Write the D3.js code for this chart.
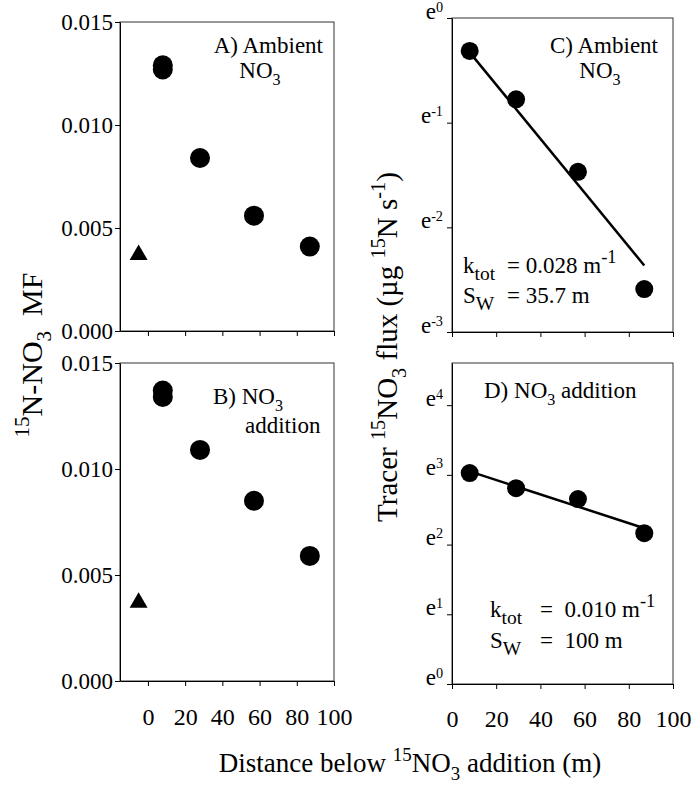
<!DOCTYPE html>
<html>
<head>
<meta charset="utf-8">
<script src="https://cdn.jsdelivr.net/npm/d3@7"></script>
<style>
  body { margin: 0; background: #fff; }
  svg { display: block; }
  svg text { font-family: 'Liberation Serif', 'DejaVu Serif', 'Times New Roman', Times, serif; }
</style>
</head>
<body>
<svg id="chart" width="692" height="790" font-family="Liberation Serif, DejaVu Serif, serif"></svg>
<script>
// tick values
const distTicks = [0, 20, 40, 60, 80, 100];
const mfTicks = [0, 0.005, 0.010, 0.015];
const expTicksC = [0, -1, -2, -3];
const expTicksD = [0, 1, 2, 3, 4];

// 15N-NO3 mole fraction (panels A, B)
const distMF = [8, 8, 28, 57, 87];
const mfAmbient = [0.0129, 0.0127, 0.0084, 0.0056, 0.0041];
const mfAddition = [0.0137, 0.0134, 0.0109, 0.0085, 0.0059];
const distBackground = [-5];
const mfBackgroundA = [0.0037];
const mfBackgroundB = [0.0037];

// tracer flux (panels C, D), ug 15N/s
const distFlux = [8, 29, 57, 87];
const fluxAmbient = [0.73, 0.46, 0.23, 0.075];
const fluxAddition = [20.6, 16.6, 14.2, 8.7];

// fitted lines (end points)
const fitDistC = [8, 87];
const fitFluxC = [0.72, 0.094];
const fitDistD = [9, 86];
const fitFluxD = [20.9, 9.45];

const svg = d3.select("#chart");

// text with super / subscripts: parts = [[text, "sup"|"sub"|undefined], ...]
function rich(text, parts, size, supRaise = 0.42, small = 0.7) {
  let shift = 0;
  parts.forEach(([t, type]) => {
    const target = type === "sup" ? -supRaise * size : type === "sub" ? 0.3 * size : 0;
    text.append("tspan")
      .attr("dy", target - shift)
      .attr("font-size", type ? size * small : size)
      .text(t);
    shift = target;
  });
  return text;
}

function frame(b) {
  svg.append("rect")
    .attr("x", b.x0).attr("y", b.y0)
    .attr("width", b.x1 - b.x0).attr("height", b.y1 - b.y0)
    .attr("fill", "none").attr("stroke", "#333").attr("stroke-width", 1);
}

function styleAxis(g, size) {
  g.attr("font-family", null).attr("font-size", size);
  g.selectAll("path.domain").attr("stroke", "#000");
  g.selectAll(".tick line").attr("stroke", "#000");
  g.selectAll("text").attr("fill", "#000");
}

// ---------- panels A and B ----------
const boxA = {x0: 120, x1: 334, y0: 22, y1: 331};
const boxB = {x0: 120, x1: 334, y0: 363, y1: 681};

function mfPanel(box, mf, bg, showLabels) {
  const x = d3.scaleLinear().domain([-15, 100]).range([box.x0, box.x1]);
  const y = d3.scaleLinear().domain([0, 0.015]).range([box.y1, box.y0]);
  frame(box);

  const gy = svg.append("g").attr("transform", `translate(${box.x0},0)`)
    .call(d3.axisLeft(y).tickValues(mfTicks).tickFormat(d3.format(".3f"))
      .tickSize(5).tickSizeOuter(0).tickPadding(2));
  styleAxis(gy, 23);

  const gx = svg.append("g").attr("transform", `translate(0,${box.y1})`)
    .call(d3.axisBottom(x).tickValues(distTicks)
      .tickFormat(showLabels ? d3.format("d") : () => "")
      .tickSize(5).tickSizeOuter(0).tickPadding(22));
  styleAxis(gx, 24);

  svg.append("g").selectAll("circle")
    .data(mf)
    .join("circle")
    .attr("cx", (d, i) => x(distMF[i]))
    .attr("cy", d => y(d))
    .attr("r", 10)
    .attr("fill", "#000");

  svg.append("g").selectAll("path")
    .data(bg)
    .join("path")
    .attr("d", d3.symbol(d3.symbolTriangle, 140))
    .attr("transform", (d, i) => `translate(${x(distBackground[i])},${y(d)})`)
    .attr("fill", "#000");
}

mfPanel(boxA, mfAmbient, mfBackgroundA, false);
mfPanel(boxB, mfAddition, mfBackgroundB, true);

// ---------- panels C and D ----------
const boxC = {x0: 452, x1: 673, y0: 18, y1: 332};
const boxD = {x0: 452, x1: 673, y0: 363, y1: 684};

function fluxPanel(box, flux, expTicks, fitDist, fitFlux, showLabels) {
  const x = d3.scaleLinear().domain([0, 100]).range([box.x0, box.x1]);
  const lo = d3.min(expTicks), hi = d3.max(expTicks);
  const top = showLabels ? 100 : Math.exp(hi);
  const y = d3.scaleLog().base(Math.E).domain([Math.exp(lo), top]).range([box.y1, box.y0]);
  frame(box);

  const gy = svg.append("g").attr("transform", `translate(${box.x0},0)`)
    .call(d3.axisLeft(y).tickValues(expTicks.map(Math.exp)).tickFormat(() => "")
      .tickSize(5).tickSizeOuter(0).tickPadding(4));
  styleAxis(gy, 23);
  gy.selectAll(".tick text").each(function(d) {
    const n = Math.round(Math.log(d));
    d3.select(this).text(null).attr("dy", "0.36em");
    rich(d3.select(this), [["e"], [String(n), "sup"]], 23, 0.3, 0.62);
  });

  const gx = svg.append("g").attr("transform", `translate(0,${box.y1})`)
    .call(d3.axisBottom(x).tickValues(distTicks)
      .tickFormat(showLabels ? d3.format("d") : () => "")
      .tickSize(5).tickSizeOuter(0).tickPadding(21));
  styleAxis(gx, 24);

  const line = d3.line().x(d => x(d[0])).y(d => y(d[1]));
  svg.append("path")
    .datum(fitDist.map((d, i) => [d, fitFlux[i]]))
    .attr("d", line)
    .attr("fill", "none")
    .attr("stroke", "#000")
    .attr("stroke-width", 2.5);

  svg.append("g").selectAll("circle")
    .data(flux)
    .join("circle")
    .attr("cx", (d, i) => x(distFlux[i]))
    .attr("cy", d => y(d))
    .attr("r", 9)
    .attr("fill", "#000");
}

fluxPanel(boxC, fluxAmbient, expTicksC, fitDistC, fitFluxC, false);
fluxPanel(boxD, fluxAddition, expTicksD, fitDistD, fitFluxD, true);

// ---------- panel annotations ----------
const fs = 23;
function label(x, y, anchor, parts, size = fs, small = 0.7) {
  return rich(svg.append("text").attr("x", x).attr("y", y).attr("text-anchor", anchor), parts, size, 0.42, small);
}

label(323, 53, "end", [["A) Ambient"]]);
label(260, 78, "middle", [["NO"], ["3", "sub"]]);
label(213, 404, "start", [["B) NO"], ["3", "sub"]]);
label(245, 433, "start", [["addition"]]);
label(658, 53, "end", [["C) Ambient"]]);
label(600, 78, "middle", [["NO"], ["3", "sub"]]);
label(484, 398, "start", [["D) NO"], ["3", "sub"], [" addition"]]);

label(463, 273, "start", [["k"], ["tot", "sub"]], fs, 0.85);
label(507, 273, "start", [["= 0.028 m"], ["-1", "sup"]], fs, 0.8);
label(463, 303, "start", [["S"], ["W", "sub"]], fs, 0.85);
label(507, 303, "start", [["= 35.7 m"]]);

label(490, 617, "start", [["k"], ["tot", "sub"]], fs, 0.85);
label(540, 617, "start", [["=\u00a0 0.010 m"], ["-1", "sup"]], fs, 0.8);
label(490, 648, "start", [["S"], ["W", "sub"]], fs, 0.85);
label(540, 648, "start", [["=\u00a0 100 m"]]);

// ---------- axis titles ----------
rich(svg.append("text").attr("text-anchor", "middle")
  .attr("transform", "translate(42,355) rotate(-90)"),
  [["15", "sup"], ["N-NO"], ["3", "sub"], ["\u00a0 MF"]], 30);

rich(svg.append("text").attr("text-anchor", "middle")
  .attr("transform", "translate(397,347) rotate(-90)"),
  [["Tracer "], ["15", "sup"], ["NO"], ["3", "sub"], [" flux (\u00b5g "], ["15", "sup"], ["N s"], ["-1", "sup"], [")"]], 29);

rich(svg.append("text").attr("text-anchor", "middle").attr("x", 410).attr("y", 772),
  [["Distance below "], ["15", "sup"], ["NO"], ["3", "sub"], [" addition (m)"]], 27);
</script>
</body>
</html>
